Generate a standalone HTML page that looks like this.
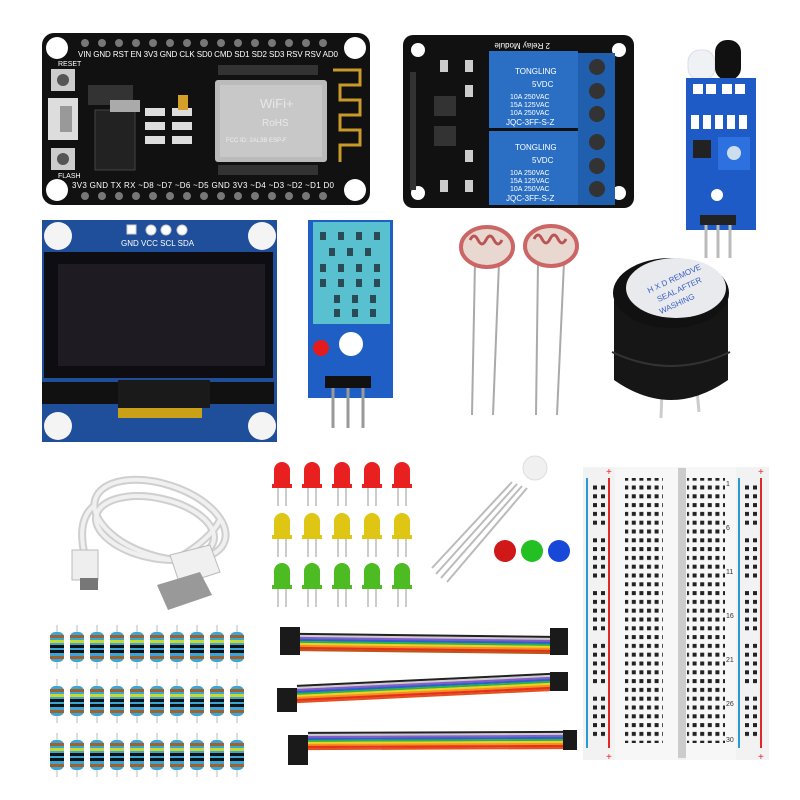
<!DOCTYPE html>
<html><head><meta charset="utf-8"><style>
html,body{margin:0;padding:0;background:#fff;width:800px;height:800px;overflow:hidden}
svg{display:block}
text{font-family:"Liberation Sans",sans-serif}
</style></head><body>
<svg width="800" height="800" viewBox="0 0 800 800" xmlns="http://www.w3.org/2000/svg">
<defs>
<pattern id="bbh" x="0" y="0" width="7.6" height="8.8" patternUnits="userSpaceOnUse"><rect x="1" y="1.5" width="4" height="4" fill="#222"/></pattern>
<pattern id="rail" x="0" y="0" width="8" height="8.8" patternUnits="userSpaceOnUse"><rect x="1" y="1.5" width="4" height="4" fill="#222"/></pattern>
<g id="res">
<line x1="0" y1="-22" x2="0" y2="22" stroke="#ddd" stroke-width="2"/>
<rect x="-7" y="-15" width="14" height="30" rx="5" fill="#3aa6d8"/>
<rect x="-7" y="-12" width="14" height="3" fill="#a0622d"/>
<rect x="-7" y="-7" width="14" height="3" fill="#c9d82a"/>
<rect x="-7" y="-2" width="14" height="3" fill="#111"/>
<rect x="-7" y="3" width="14" height="3" fill="#111"/>
<rect x="-7" y="9" width="14" height="3" fill="#a0622d"/>
</g>
<g id="led">
<line x1="-4" y1="18" x2="-4" y2="44" stroke="#ccc" stroke-width="2"/>
<line x1="4" y1="18" x2="4" y2="44" stroke="#ccc" stroke-width="2"/>
<path d="M-8,24 L-8,8 A8,8 0 0 1 8,8 L8,24 Z"/>
<rect x="-10" y="22" width="20" height="4"/>
</g>
</defs>

<!-- NodeMCU -->
<rect x="42" y="33" width="328" height="172" rx="12" fill="#111"/>
<circle cx="57" cy="48" r="11" fill="#fff"/><circle cx="355" cy="48" r="11" fill="#fff"/>
<circle cx="57" cy="190" r="11" fill="#fff"/><circle cx="355" cy="190" r="11" fill="#fff"/>
<g fill="#777">
<circle cx="85" cy="43" r="4"/><circle cx="102" cy="43" r="4"/><circle cx="119" cy="43" r="4"/><circle cx="136" cy="43" r="4"/><circle cx="153" cy="43" r="4"/><circle cx="170" cy="43" r="4"/><circle cx="187" cy="43" r="4"/><circle cx="204" cy="43" r="4"/><circle cx="221" cy="43" r="4"/><circle cx="238" cy="43" r="4"/><circle cx="255" cy="43" r="4"/><circle cx="272" cy="43" r="4"/><circle cx="289" cy="43" r="4"/><circle cx="306" cy="43" r="4"/><circle cx="323" cy="43" r="4"/>
<circle cx="85" cy="196" r="4"/><circle cx="102" cy="196" r="4"/><circle cx="119" cy="196" r="4"/><circle cx="136" cy="196" r="4"/><circle cx="153" cy="196" r="4"/><circle cx="170" cy="196" r="4"/><circle cx="187" cy="196" r="4"/><circle cx="204" cy="196" r="4"/><circle cx="221" cy="196" r="4"/><circle cx="238" cy="196" r="4"/><circle cx="255" cy="196" r="4"/><circle cx="272" cy="196" r="4"/><circle cx="289" cy="196" r="4"/><circle cx="306" cy="196" r="4"/><circle cx="323" cy="196" r="4"/>
</g>
<text x="78" y="57" font-size="8" fill="#fff" textLength="260">VIN GND RST EN  3V3 GND CLK SD0 CMD SD1 SD2 SD3 RSV RSV AD0</text>
<text x="72" y="188" font-size="8" fill="#fff" textLength="262">3V3 GND TX RX ~D8 ~D7 ~D6 ~D5 GND 3V3 ~D4 ~D3 ~D2 ~D1 D0</text>
<text x="58" y="66" font-size="7" fill="#fff">RESET</text><text x="58" y="178" font-size="7" fill="#fff">FLASH</text>
<rect x="51" y="69" width="24" height="22" fill="#ccc"/><circle cx="63" cy="80" r="6" fill="#555"/>
<rect x="51" y="148" width="24" height="22" fill="#ccc"/><circle cx="63" cy="159" r="6" fill="#555"/>
<rect x="48" y="98" width="30" height="42" fill="#ddd"/><rect x="60" y="106" width="12" height="26" fill="#999"/>
<rect x="95" y="110" width="40" height="60" fill="#222" stroke="#444"/>
<rect x="88" y="85" width="45" height="20" fill="#333"/>
<rect x="110" y="100" width="30" height="12" fill="#aaa"/>
<g fill="#ddd"><rect x="145" y="108" width="20" height="8"/><rect x="145" y="122" width="20" height="8"/><rect x="145" y="136" width="20" height="8"/><rect x="172" y="108" width="20" height="8"/><rect x="172" y="122" width="20" height="8"/><rect x="172" y="136" width="20" height="8"/></g>
<rect x="178" y="95" width="10" height="15" fill="#d4a028"/>
<rect x="215" y="80" width="112" height="82" rx="3" fill="#bbb"/>
<rect x="220" y="85" width="102" height="72" fill="#c8c8c8"/>
<text x="260" y="108" font-size="13" fill="#e8e8e8">WiFi+</text>
<text x="262" y="126" font-size="10" fill="#e8e8e8">RoHS</text>
<text x="226" y="142" font-size="6" fill="#eee">FCC ID: 2AL3B ESP-F</text>
<rect x="218" y="65" width="100" height="10" fill="#333"/><rect x="218" y="165" width="100" height="10" fill="#333"/>
<path d="M333,70 H360 V85 H340 V100 H360 V115 H340 V130 H360 V145 H340 V162" fill="none" stroke="#c89a2a" stroke-width="3"/>

<!-- Relay module -->
<rect x="403" y="35" width="231" height="173" rx="10" fill="#111"/>
<circle cx="418" cy="50" r="7" fill="#fff"/><circle cx="619" cy="50" r="7" fill="#fff"/>
<circle cx="418" cy="193" r="7" fill="#fff"/><circle cx="619" cy="193" r="7" fill="#fff"/>
<rect x="410" y="72" width="6" height="118" fill="#333"/>
<rect x="434" y="96" width="22" height="20" fill="#333"/><rect x="434" y="126" width="22" height="20" fill="#333"/>
<g fill="#ccc"><rect x="440" y="60" width="8" height="12"/><rect x="465" y="60" width="8" height="12"/><rect x="440" y="180" width="8" height="12"/><rect x="465" y="180" width="8" height="12"/><rect x="465" y="85" width="8" height="12"/><rect x="465" y="150" width="8" height="12"/></g>
<text x="490" y="47" font-size="8" fill="#fff" transform="rotate(180 520 45)">2 Relay Module</text>
<rect x="489" y="51" width="89" height="77" fill="#2a6fc4"/>
<rect x="489" y="131" width="89" height="74" fill="#2a6fc4"/>
<g fill="#fff" font-size="8"><text x="515" y="74">TONGLING</text><text x="532" y="87">5VDC</text><text x="510" y="99" font-size="7">10A 250VAC</text><text x="510" y="107" font-size="7">15A 125VAC</text><text x="510" y="115" font-size="7">10A 250VAC</text><text x="506" y="125" font-size="8">JQC-3FF-S-Z</text>
<text x="515" y="150">TONGLING</text><text x="532" y="163">5VDC</text><text x="510" y="175" font-size="7">10A 250VAC</text><text x="510" y="183" font-size="7">15A 125VAC</text><text x="510" y="191" font-size="7">10A 250VAC</text><text x="506" y="201" font-size="8">JQC-3FF-S-Z</text></g>
<rect x="578" y="53" width="37" height="152" fill="#1f5fae"/>
<g fill="#333"><circle cx="597" cy="67" r="8"/><circle cx="597" cy="91" r="8"/><circle cx="597" cy="114" r="8"/><circle cx="597" cy="142" r="8"/><circle cx="597" cy="166" r="8"/><circle cx="597" cy="189" r="8"/></g>

<!-- IR sensor -->
<rect x="688" y="50" width="27" height="30" rx="12" fill="#eef2f4" stroke="#dde"/>
<rect x="715" y="40" width="26" height="40" rx="12" fill="#111"/>
<rect x="686" y="78" width="70" height="152" fill="#1e5bc6"/>
<g fill="#fff"><rect x="693" y="84" width="10" height="10"/><rect x="706" y="84" width="10" height="10"/><rect x="722" y="84" width="10" height="10"/><rect x="735" y="84" width="10" height="10"/>
<rect x="691" y="115" width="8" height="14"/><rect x="703" y="115" width="8" height="14"/><rect x="715" y="115" width="8" height="14"/><rect x="727" y="115" width="8" height="14"/><rect x="739" y="115" width="8" height="14"/></g>
<rect x="718" y="137" width="32" height="33" fill="#2d70e0"/><circle cx="734" cy="153" r="7" fill="#cde"/>
<rect x="693" y="140" width="18" height="18" fill="#222"/>
<circle cx="717" cy="195" r="6" fill="#fff"/>
<rect x="700" y="215" width="36" height="10" fill="#222"/>
<g stroke="#bbb" stroke-width="3"><line x1="706" y1="225" x2="706" y2="258"/><line x1="718" y1="225" x2="718" y2="258"/><line x1="730" y1="225" x2="730" y2="258"/></g>

<!-- OLED -->
<rect x="42" y="220" width="235" height="222" fill="#1f4f9a"/>
<circle cx="58" cy="236" r="14" fill="#f4f4f4"/><circle cx="262" cy="236" r="14" fill="#f4f4f4"/>
<circle cx="58" cy="426" r="14" fill="#f4f4f4"/><circle cx="262" cy="426" r="14" fill="#f4f4f4"/>
<g fill="#fff" stroke="#ccc"><rect x="127" y="225" width="9" height="9"/><circle cx="151" cy="230" r="5"/><circle cx="166" cy="230" r="5"/><circle cx="182" cy="230" r="5"/></g>
<text x="121" y="246" font-size="8" fill="#fff">GND VCC SCL SDA</text>
<rect x="44" y="252" width="229" height="126" fill="#0e0e12"/>
<rect x="58" y="264" width="207" height="102" fill="#1e1c22"/>
<rect x="42" y="382" width="232" height="22" fill="#111"/>
<rect x="118" y="380" width="92" height="28" fill="#1a1a1a"/>
<rect x="118" y="408" width="84" height="10" fill="#c9a016"/>

<!-- DHT11 -->
<rect x="308" y="220" width="85" height="178" fill="#1f5ec4"/>
<rect x="313" y="222" width="77" height="102" fill="#59c0cf"/>
<g fill="#2a4b55"><rect x="320" y="232" width="6" height="8"/><rect x="338" y="232" width="6" height="8"/><rect x="356" y="232" width="6" height="8"/><rect x="374" y="232" width="6" height="8"/>
<rect x="329" y="248" width="6" height="8"/><rect x="347" y="248" width="6" height="8"/><rect x="365" y="248" width="6" height="8"/>
<rect x="320" y="264" width="6" height="8"/><rect x="338" y="264" width="6" height="8"/><rect x="356" y="264" width="6" height="8"/><rect x="374" y="264" width="6" height="8"/>
<rect x="320" y="279" width="6" height="8"/><rect x="338" y="279" width="6" height="8"/><rect x="356" y="279" width="6" height="8"/><rect x="374" y="279" width="6" height="8"/>
<rect x="334" y="295" width="6" height="8"/><rect x="352" y="295" width="6" height="8"/><rect x="370" y="295" width="6" height="8"/>
<rect x="334" y="309" width="6" height="8"/><rect x="352" y="309" width="6" height="8"/><rect x="370" y="309" width="6" height="8"/></g>
<circle cx="321" cy="348" r="8" fill="#e21c1c"/>
<circle cx="351" cy="344" r="12" fill="#fff"/>
<rect x="325" y="376" width="46" height="12" fill="#111"/>
<g stroke="#999" stroke-width="3"><line x1="333" y1="388" x2="333" y2="428"/><line x1="348" y1="388" x2="348" y2="428"/><line x1="363" y1="388" x2="363" y2="428"/></g>

<!-- LDRs -->
<g stroke="#aaa" stroke-width="2"><line x1="475" y1="262" x2="472" y2="415"/><line x1="499" y1="262" x2="493" y2="415"/><line x1="538" y1="262" x2="536" y2="415"/><line x1="564" y1="262" x2="557" y2="415"/></g>
<ellipse cx="487" cy="247" rx="26" ry="20" fill="#e8d8d0" stroke="#c66" stroke-width="4"/>
<path d="M470,240 q4,-8 8,0 q4,8 8,0 q4,-8 8,0 q4,8 8,0" fill="none" stroke="#b55" stroke-width="3"/>
<ellipse cx="551" cy="246" rx="26" ry="20" fill="#e8d8d0" stroke="#c66" stroke-width="4"/>
<path d="M534,239 q4,-8 8,0 q4,8 8,0 q4,-8 8,0 q4,8 8,0" fill="none" stroke="#b55" stroke-width="3"/>

<!-- Buzzer -->
<g stroke="#ccc" stroke-width="3"><line x1="662" y1="390" x2="661" y2="418"/><line x1="697" y1="390" x2="699" y2="412"/></g>
<path d="M614,300 L614,380 Q671,420 728,380 L728,300 Z" fill="#161616"/>
<path d="M612,352 Q671,380 730,352" stroke="#333" stroke-width="2" fill="none"/>
<ellipse cx="671" cy="293" rx="58" ry="35" fill="#111"/>
<ellipse cx="676" cy="288" rx="50" ry="30" fill="#e8eaed"/>
<text x="650" y="282" font-size="8" fill="#3a5fc4" transform="rotate(-25 675 290)">H X D REMOVE</text>
<text x="655" y="294" font-size="8" fill="#3a5fc4" transform="rotate(-25 675 290)">SEAL AFTER</text>
<text x="652" y="306" font-size="8" fill="#3a5fc4" transform="rotate(-25 675 290)">WASHING</text>

<!-- USB cable -->
<g fill="none" stroke="#cfcfcf" stroke-width="8">
<ellipse cx="160" cy="520" rx="68" ry="36" transform="rotate(18 160 520)"/>
<ellipse cx="155" cy="528" rx="60" ry="30" transform="rotate(12 155 528)"/>
<path d="M86,560 Q75,520 95,505"/><path d="M175,560 Q210,540 220,520"/></g>
<g fill="none" stroke="#f0f0f0" stroke-width="4">
<ellipse cx="160" cy="520" rx="68" ry="36" transform="rotate(18 160 520)"/>
<ellipse cx="155" cy="528" rx="60" ry="30" transform="rotate(12 155 528)"/>
<path d="M86,560 Q75,520 95,505"/><path d="M175,560 Q210,540 220,520"/></g>
<rect x="72" y="550" width="26" height="30" fill="#eee" stroke="#bbb"/><rect x="80" y="578" width="18" height="12" fill="#777"/>
<polygon points="170,555 210,545 220,572 180,585" fill="#f0f0f0" stroke="#bbb"/>
<polygon points="157,585 200,572 212,595 168,610" fill="#999"/>

<!-- LEDs -->
<g fill="#e82020"><use href="#led" x="282" y="462"/><use href="#led" x="312" y="462"/><use href="#led" x="342" y="462"/><use href="#led" x="372" y="462"/><use href="#led" x="402" y="462"/></g>
<g fill="#e0c614"><use href="#led" x="282" y="513"/><use href="#led" x="312" y="513"/><use href="#led" x="342" y="513"/><use href="#led" x="372" y="513"/><use href="#led" x="402" y="513"/></g>
<g fill="#4cbc22"><use href="#led" x="282" y="563"/><use href="#led" x="312" y="563"/><use href="#led" x="342" y="563"/><use href="#led" x="372" y="563"/><use href="#led" x="402" y="563"/></g>

<!-- RGB LED -->
<g stroke="#bbb" stroke-width="2"><line x1="512" y1="482" x2="432" y2="568"/><line x1="517" y1="484" x2="436" y2="574"/><line x1="522" y1="486" x2="441" y2="578"/><line x1="527" y1="488" x2="447" y2="582"/></g>
<circle cx="535" cy="468" r="12" fill="#f0f0f0" stroke="#ddd"/>
<circle cx="505" cy="551" r="11" fill="#d01818"/><circle cx="532" cy="551" r="11" fill="#22c022"/><circle cx="559" cy="551" r="11" fill="#1848d8"/>

<!-- Breadboard -->
<rect x="583" y="467" width="186" height="293" fill="#f2f2f2"/>
<rect x="615" y="467" width="63" height="293" fill="#f7f7f7"/>
<rect x="678" y="468" width="8" height="290" fill="#ccc"/>
<rect x="686" y="467" width="50" height="293" fill="#f7f7f7"/>
<line x1="587" y1="478" x2="587" y2="748" stroke="#2a9ad4" stroke-width="2"/>
<line x1="609" y1="478" x2="609" y2="748" stroke="#e02828" stroke-width="2"/>
<line x1="739" y1="478" x2="739" y2="748" stroke="#2a9ad4" stroke-width="2"/>
<line x1="761" y1="478" x2="761" y2="748" stroke="#e02828" stroke-width="2"/>
<g fill="#e02828" font-size="10"><text x="606" y="475">+</text><text x="758" y="475">+</text><text x="606" y="760">+</text><text x="758" y="760">+</text></g>
<rect x="625" y="478" width="38" height="265" fill="url(#bbh)"/>
<rect x="687" y="478" width="38" height="265" fill="url(#bbh)"/>
<rect x="592" y="485" width="16" height="44" fill="url(#rail)"/><rect x="592" y="538" width="16" height="44" fill="url(#rail)"/><rect x="592" y="590" width="16" height="44" fill="url(#rail)"/><rect x="592" y="643" width="16" height="44" fill="url(#rail)"/><rect x="592" y="695" width="16" height="44" fill="url(#rail)"/>
<rect x="743" y="485" width="16" height="44" fill="url(#rail)"/><rect x="743" y="538" width="16" height="44" fill="url(#rail)"/><rect x="743" y="590" width="16" height="44" fill="url(#rail)"/><rect x="743" y="643" width="16" height="44" fill="url(#rail)"/><rect x="743" y="695" width="16" height="44" fill="url(#rail)"/>
<g font-size="7" fill="#333"><text x="726" y="486">1</text><text x="726" y="530">6</text><text x="726" y="574">11</text><text x="726" y="618">16</text><text x="726" y="662">21</text><text x="726" y="706">26</text><text x="726" y="742">30</text></g>

<!-- Resistors -->
<g>
<use href="#res" x="57" y="647"/><use href="#res" x="77" y="647"/><use href="#res" x="97" y="647"/><use href="#res" x="117" y="647"/><use href="#res" x="137" y="647"/><use href="#res" x="157" y="647"/><use href="#res" x="177" y="647"/><use href="#res" x="197" y="647"/><use href="#res" x="217" y="647"/><use href="#res" x="237" y="647"/>
<use href="#res" x="57" y="701"/><use href="#res" x="77" y="701"/><use href="#res" x="97" y="701"/><use href="#res" x="117" y="701"/><use href="#res" x="137" y="701"/><use href="#res" x="157" y="701"/><use href="#res" x="177" y="701"/><use href="#res" x="197" y="701"/><use href="#res" x="217" y="701"/><use href="#res" x="237" y="701"/>
<use href="#res" x="57" y="755"/><use href="#res" x="77" y="755"/><use href="#res" x="97" y="755"/><use href="#res" x="117" y="755"/><use href="#res" x="137" y="755"/><use href="#res" x="157" y="755"/><use href="#res" x="177" y="755"/><use href="#res" x="197" y="755"/><use href="#res" x="217" y="755"/><use href="#res" x="237" y="755"/>
</g>

<!-- Jumper wires -->
<g stroke-width="2.2">
<line x1="300" y1="634" x2="550" y2="637" stroke="#222"/><line x1="300" y1="636" x2="550" y2="639" stroke="#ccc"/><line x1="300" y1="638" x2="550" y2="641" stroke="#8a5bc8"/><line x1="300" y1="640" x2="550" y2="643" stroke="#2c5fd0"/><line x1="300" y1="642" x2="550" y2="645" stroke="#2bb34a"/><line x1="300" y1="644" x2="550" y2="647" stroke="#f0d020"/><line x1="300" y1="646" x2="550" y2="649" stroke="#f49020"/><line x1="300" y1="648" x2="550" y2="651" stroke="#e53020"/><line x1="300" y1="650" x2="550" y2="653" stroke="#c0551a"/>
<line x1="297" y1="686" x2="550" y2="674" stroke="#222"/><line x1="297" y1="688" x2="550" y2="676" stroke="#ccc"/><line x1="297" y1="690" x2="550" y2="678" stroke="#8a5bc8"/><line x1="297" y1="692" x2="550" y2="680" stroke="#2c5fd0"/><line x1="297" y1="694" x2="550" y2="682" stroke="#2bb34a"/><line x1="297" y1="696" x2="550" y2="684" stroke="#f0d020"/><line x1="297" y1="698" x2="550" y2="686" stroke="#f49020"/><line x1="297" y1="700" x2="550" y2="688" stroke="#e53020"/><line x1="297" y1="702" x2="550" y2="690" stroke="#e55020"/>
<line x1="308" y1="733" x2="563" y2="732" stroke="#222"/><line x1="308" y1="735" x2="563" y2="734" stroke="#ccc"/><line x1="308" y1="737" x2="563" y2="736" stroke="#8a5bc8"/><line x1="308" y1="739" x2="563" y2="738" stroke="#2c5fd0"/><line x1="308" y1="741" x2="563" y2="740" stroke="#2bb34a"/><line x1="308" y1="743" x2="563" y2="742" stroke="#f0d020"/><line x1="308" y1="745" x2="563" y2="744" stroke="#f49020"/><line x1="308" y1="747" x2="563" y2="746" stroke="#e53020"/><line x1="308" y1="749" x2="563" y2="748" stroke="#e55020"/>
</g>
<g fill="#1a1a1a">
<rect x="280" y="627" width="20" height="28"/><rect x="550" y="628" width="18" height="27"/>
<rect x="277" y="688" width="20" height="24"/><rect x="550" y="672" width="18" height="19"/>
<rect x="288" y="735" width="20" height="30"/><rect x="563" y="730" width="14" height="20"/>
</g>
</svg>
</body></html>
